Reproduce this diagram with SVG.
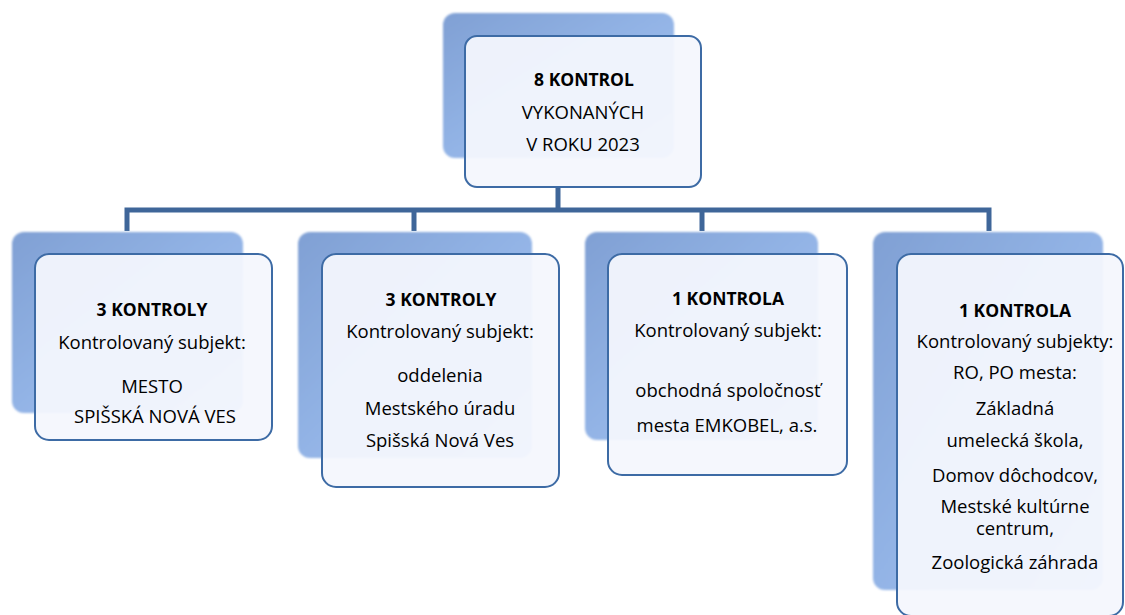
<svg xmlns="http://www.w3.org/2000/svg" width="1125" height="615" viewBox="0 0 1125 615">
<defs>
<linearGradient id="bg" x1="0" y1="0" x2="1" y2="1">
<stop offset="0" stop-color="#80a0d4"/>
<stop offset="0.5" stop-color="#93b4e6"/>
<stop offset="1" stop-color="#a6c5f1"/>
</linearGradient>
<filter id="soft" x="-5%" y="-5%" width="110%" height="110%">
<feGaussianBlur stdDeviation="1.2"/>
</filter>
<style>
.back{fill:url(#bg);filter:url(#soft);}
.front{fill:#f4f6fd;fill-opacity:0.94;stroke:#3d6ba5;stroke-width:2;}
.conn{fill:none;stroke:#3f6699;stroke-width:5;}
text{font-family:"Open Sans","Liberation Sans",sans-serif;font-size:18.5px;fill:#000;text-anchor:middle;}
.b{font-weight:bold;font-size:17.5px;}
</style>
</defs>
<g id="connectors">
<path class="conn" d="M558 187 V210 M127 231 V210 H989 V231 M414 210 V231 M702 210 V231"/>
</g>
<g id="node-top">
<rect class="back" x="443" y="13" width="231" height="145" rx="12"/>
<rect class="front" x="465" y="36" width="236" height="151" rx="12"/>
<text class="b" x="584" y="86">8 KONTROL</text>
<text x="583" y="119">VYKONANÝCH</text>
<text x="583" y="151">V ROKU 2023</text>
</g>
<g id="node-1">
<rect class="back" x="12" y="232" width="231" height="181" rx="12"/>
<rect class="front" x="35" y="254" width="237" height="186" rx="14"/>
<text class="b" x="152" y="316">3 KONTROLY</text>
<text x="152" y="349">Kontrolovaný subjekt:</text>
<text x="152" y="393">MESTO</text>
<text x="155" y="423">SPIŠSKÁ NOVÁ VES</text>
</g>
<g id="node-2">
<rect class="back" x="298" y="232" width="234" height="226" rx="12"/>
<rect class="front" x="322" y="254" width="237" height="233" rx="14"/>
<text class="b" x="441" y="306">3 KONTROLY</text>
<text x="440" y="338">Kontrolovaný subjekt:</text>
<text x="440" y="382">oddelenia</text>
<text x="440" y="415">Mestského úradu</text>
<text x="440" y="447">Spišská Nová Ves</text>
</g>
<g id="node-3">
<rect class="back" x="585" y="232" width="233" height="208" rx="12"/>
<rect class="front" x="608" y="254" width="239" height="221" rx="14"/>
<text class="b" x="728" y="305">1 KONTROLA</text>
<text x="728" y="337">Kontrolovaný subjekt:</text>
<text x="728" y="397">obchodná spoločnosť</text>
<text x="727" y="432">mesta EMKOBEL, a.s.</text>
</g>
<g id="node-4">
<rect class="back" x="873" y="232" width="230" height="358" rx="12"/>
<rect class="front" x="897" y="254" width="226" height="362" rx="14"/>
<text class="b" x="1015" y="317">1 KONTROLA</text>
<text x="1015" y="348">Kontrolovaný subjekty:</text>
<text x="1015" y="379">RO, PO mesta:</text>
<text x="1015" y="415">Základná</text>
<text x="1015" y="447">umelecká škola,</text>
<text x="1015" y="482">Domov dôchodcov,</text>
<text x="1015" y="513">Mestské kultúrne</text>
<text x="1015" y="535">centrum,</text>
<text x="1015" y="569">Zoologická záhrada</text>
</g>
</svg>
